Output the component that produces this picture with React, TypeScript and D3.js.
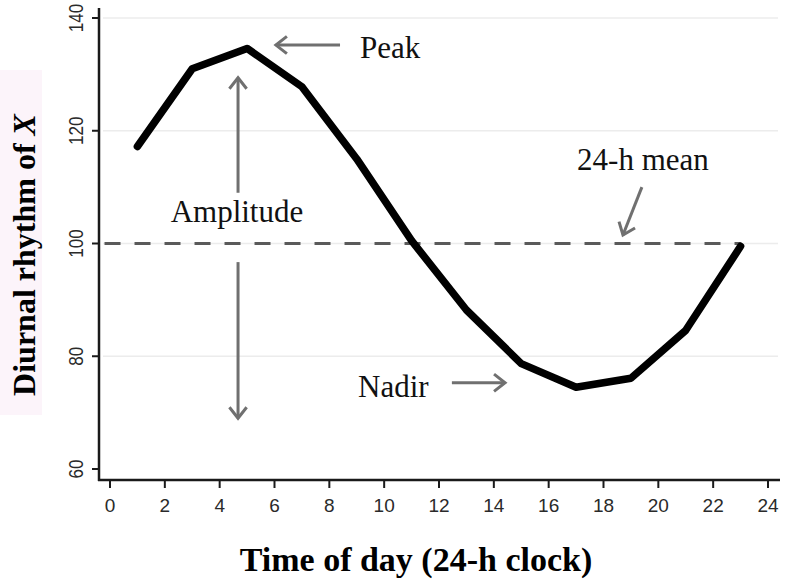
import React from "react";
import * as d3 from "d3";

const hours = [1, 3, 5, 7, 9, 11, 13, 15, 17, 19, 21, 23];
const values = [117.2, 131, 134.6, 127.8, 115, 100.5, 88.2, 78.7, 74.5, 76.1, 84.6, 99.5];
const xTicks = [0, 2, 4, 6, 8, 10, 12, 14, 16, 18, 20, 22, 24];
const yTicks = [60, 80, 100, 120, 140];
const gridValues = [80, 100, 120, 140];
const meanValue = 100;

const W = 804;
const H = 580;

export default function App() {
  const x = d3.scaleLinear().domain([0, 24]).range([110, 768]);
  const y = d3.scaleLinear().domain([60, 140]).range([469, 18]);

  const pts: [number, number][] = hours.map((h, i) => [h, values[i]]);
  const line = d3
    .line<[number, number]>()
    .x((d) => x(d[0]))
    .y((d) => y(d[1]));

  const arrowCol = "#707070";
  const head = (x1: number, y1: number, x2: number, y2: number, key: string) => {
    const ang = Math.atan2(y2 - y1, x2 - x1);
    const L = 14;
    const a = (38 * Math.PI) / 180;
    const p1 = [x2 - L * Math.cos(ang - a), y2 - L * Math.sin(ang - a)];
    const p2 = [x2 - L * Math.cos(ang + a), y2 - L * Math.sin(ang + a)];
    return (
      <g key={key}>
        <line x1={x1} y1={y1} x2={x2} y2={y2} stroke={arrowCol} strokeWidth={3} />
        <path
          d={`M${p1[0]},${p1[1]}L${x2},${y2}L${p2[0]},${p2[1]}`}
          fill="none"
          stroke={arrowCol}
          strokeWidth={3}
          strokeLinejoin="miter"
        />
      </g>
    );
  };

  const annFont = "'Liberation Serif', 'Times New Roman', serif";
  const tickFont = "'Liberation Sans', Arial, sans-serif";

  return (
    <svg
      width={W}
      height={H}
      style={{ position: "absolute", left: 0, top: 0, background: "#fff" }}
    >
      <rect x={0} y={0} width={W} height={H} fill="#fff" />
      <rect x={0} y={70} width={42} height={345} fill="#fcf4fa" />

      {/* grid */}
      {gridValues.map((v) => (
        <line key={"g" + v} x1={103} x2={778} y1={y(v)} y2={y(v)} stroke="#ececec" strokeWidth={1.5} />
      ))}

      {/* mean dashed line */}
      <line
        x1={x(-0.2)}
        x2={x(23)}
        y1={y(meanValue)}
        y2={y(meanValue)}
        stroke="#5a5a5a"
        strokeWidth={3}
        strokeDasharray="16 14"
      />

      {/* axes */}
      <line x1={99} x2={99} y1={8} y2={481} stroke="#1a1a1a" strokeWidth={2.5} />
      <line x1={98} x2={780} y1={480} y2={480} stroke="#1a1a1a" strokeWidth={2.5} />
      {xTicks.map((t) => (
        <g key={"xt" + t}>
          <line x1={x(t)} x2={x(t)} y1={480} y2={488} stroke="#1a1a1a" strokeWidth={2} />
          <text
            x={x(t)}
            y={512}
            textAnchor="middle"
            fontFamily={tickFont}
            fontSize={19}
            fill="#2a2a2a"
          >
            {t}
          </text>
        </g>
      ))}
      {yTicks.map((t) => (
        <g key={"yt" + t}>
          <line x1={92} x2={99} y1={y(t)} y2={y(t)} stroke="#1a1a1a" strokeWidth={2} />
          <text
            transform={`translate(83,${y(t)}) rotate(-90) scale(0.95,1.15)`}
            textAnchor="middle"
            fontFamily={tickFont}
            fontSize={18}
            fill="#2a2a2a"
          >
            {t}
          </text>
        </g>
      ))}

      {/* data line */}
      <path
        d={line(pts) || ""}
        fill="none"
        stroke="#000"
        strokeWidth={7.5}
        strokeLinejoin="round"
        strokeLinecap="round"
      />

      {/* annotations */}
      {head(x(8.39), y(135.2), x(6.05), y(135.2), "peak")}
      <text x={x(9.12)} y={y(132.9)} fontFamily={annFont} fontSize={31} fill="#111">
        Peak
      </text>

      {head(x(4.67), y(109), x(4.67), y(129.4), "ampUp")}
      <text x={x(4.63)} y={y(103.9)} textAnchor="middle" fontFamily={annFont} fontSize={31} fill="#111">
        Amplitude
      </text>
      {head(x(4.67), y(96.7), x(4.67), y(69.0), "ampDown")}

      <text x={x(19.44)} y={y(113.0)} textAnchor="middle" fontFamily={annFont} fontSize={31} fill="#111">
        24-h mean
      </text>
      {head(x(19.4), y(110.0), x(18.71), y(101.5), "mean")}

      <text x={x(9.05)} y={y(72.8)} fontFamily={annFont} fontSize={31} fill="#111">
        Nadir
      </text>
      {head(x(12.47), y(75.3), x(14.41), y(75.3), "nadir")}

      {/* axis titles */}
      <text
        x={416}
        y={571}
        textAnchor="middle"
        fontFamily={annFont}
        fontWeight="bold"
        fontSize={34}
        fill="#000"
      >
        Time of day (24-h clock)
      </text>
      <text
        transform={`translate(35,255) rotate(-90)`}
        textAnchor="middle"
        fontFamily={annFont}
        fontWeight="bold"
        fontSize={32}
        fill="#000"
      >
        Diurnal rhythm of <tspan fontStyle="italic">X</tspan>
      </text>
    </svg>
  );
}
